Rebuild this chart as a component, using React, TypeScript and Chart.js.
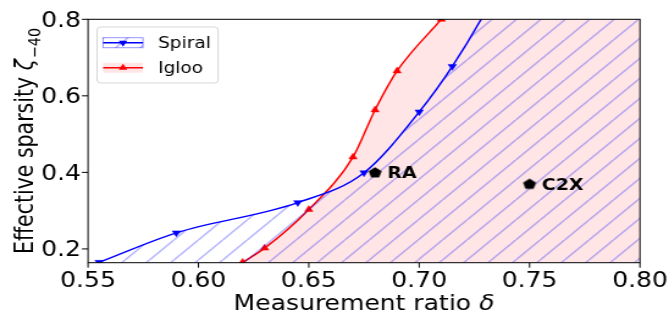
import React, { useEffect, useRef } from 'react';
import { Chart, registerables } from 'chart.js';

Chart.register(...registerables);

// ---------------- data ----------------
const xTicks = [0.55, 0.6, 0.65, 0.7, 0.75, 0.8];
const yTicks = [0.2, 0.4, 0.6, 0.8];
const xMin = 0.55;
const xMax = 0.8;
const yMin = 0.164;
const yMax = 0.8;

const seriesNames = ['Spiral', 'Igloo'];
const spiralX = [0.555, 0.59, 0.645, 0.675, 0.7, 0.715, 0.73, 0.8];
const spiralY = [0.165, 0.242, 0.321, 0.399, 0.558, 0.677, 0.82, 1.6];
const iglooX = [0.62, 0.63, 0.65, 0.67, 0.68, 0.69, 0.71, 0.8];
const iglooY = [0.165, 0.202, 0.303, 0.44, 0.563, 0.665, 0.8, 1.4];

const annLabels = ['RA', 'C2X'];
const annX = [0.68, 0.75];
const annY = [0.4, 0.37];

const xTitle = 'Measurement ratio ';
const xTitleSym = 'δ';
const yTitle = 'Effective sparsity ';
const yTitleSym = 'ζ';
const yTitleSub = '−40';

// ---------------- layout ----------------
const W = 548;
const H = 314;
const CSS_W = 669;
const FONT = '"DejaVu Sans", sans-serif';
const TICK_FS = 20.5;
const LEG_FS = 15.2;
const ANN_FS = 15.5;

function makeHatch(ctx: CanvasRenderingContext2D): CanvasPattern {
  const s = 20;
  const c = document.createElement('canvas');
  c.width = s;
  c.height = s;
  const g = c.getContext('2d')!;
  g.strokeStyle = 'rgba(0,0,255,0.42)';
  g.lineWidth = 1.1;
  g.beginPath();
  for (const o of [-s, 0, s]) {
    g.moveTo(o, s);
    g.lineTo(o + s, 0);
  }
  g.stroke();
  const p = ctx.createPattern(c, 'repeat')!;
  try {
    p.setTransform(new DOMMatrix().translate(2.4, 0));
  } catch (e) {}
  return p;
}

function makePentagon(): HTMLCanvasElement {
  const c = document.createElement('canvas');
  c.width = 13;
  c.height = 13;
  const g = c.getContext('2d')!;
  g.fillStyle = '#000';
  g.beginPath();
  for (let i = 0; i < 5; i++) {
    const a = -Math.PI / 2 + (i * 2 * Math.PI) / 5;
    const px = 6.5 + 5.6 * Math.cos(a);
    const py = 6.9 + 5.6 * Math.sin(a);
    if (i) g.lineTo(px, py);
    else g.moveTo(px, py);
  }
  g.closePath();
  g.fill();
  return c;
}

function tri(ctx: CanvasRenderingContext2D, x: number, y: number, r: number, down: boolean, color: string) {
  ctx.beginPath();
  for (let i = 0; i < 3; i++) {
    const a = (down ? Math.PI : 0) + (i * 2 * Math.PI) / 3;
    const px = x + Math.sin(a) * r;
    const py = y - Math.cos(a) * r;
    if (i) ctx.lineTo(px, py);
    else ctx.moveTo(px, py);
  }
  ctx.closePath();
  ctx.fillStyle = color;
  ctx.fill();
}

export default function App() {
  const ref = useRef<HTMLCanvasElement>(null);

  useEffect(() => {
    document.body.style.margin = '0';
    const canvas = ref.current!;
    const ctx0 = canvas.getContext('2d')!;
    const hatch = makeHatch(ctx0);
    const pent = makePentagon();

    const decor = {
      id: 'decor',
      afterDraw(chart: any) {
        const ctx: CanvasRenderingContext2D = chart.ctx;
        const a = chart.chartArea;
        const xs = chart.scales.x;
        const ys = chart.scales.y;
        ctx.save();
        // spines
        ctx.strokeStyle = '#000';
        ctx.lineWidth = 1;
        ctx.strokeRect(a.left, a.top, a.right - a.left, a.bottom - a.top);
        // ticks + labels
        ctx.fillStyle = '#000';
        ctx.font = `${TICK_FS}px ${FONT}`;
        ctx.textBaseline = 'alphabetic';
        ctx.textAlign = 'center';
        xTicks.forEach((v) => {
          const px = xs.getPixelForValue(v);
          ctx.beginPath();
          ctx.moveTo(px, a.bottom);
          ctx.lineTo(px, a.bottom + 5);
          ctx.stroke();
          ctx.fillText(v.toFixed(2), px, a.bottom + 24.5);
        });
        ctx.textAlign = 'right';
        yTicks.forEach((v) => {
          const py = ys.getPixelForValue(v);
          ctx.beginPath();
          ctx.moveTo(a.left - 5, py);
          ctx.lineTo(a.left, py);
          ctx.stroke();
          ctx.fillText(v.toFixed(1), a.left - 5.7, py + 0.3645 * TICK_FS);
        });
        // x title
        ctx.textAlign = 'left';
        ctx.font = `${TICK_FS}px ${FONT}`;
        const w1 = ctx.measureText(xTitle).width;
        ctx.font = `italic ${TICK_FS}px ${FONT}`;
        const w2 = ctx.measureText(xTitleSym).width;
        const cx = (a.left + a.right) / 2;
        const tx = cx - (w1 + w2) / 2;
        ctx.font = `${TICK_FS}px ${FONT}`;
        ctx.fillText(xTitle, tx, 310);
        ctx.font = `italic ${TICK_FS}px ${FONT}`;
        ctx.fillText(xTitleSym, tx + w1, 310);
        // y title
        ctx.save();
        ctx.translate(27.3, (a.top + a.bottom) / 2);
        ctx.rotate(-Math.PI / 2);
        ctx.font = `${TICK_FS}px ${FONT}`;
        const y1 = ctx.measureText(yTitle).width;
        ctx.font = `italic ${TICK_FS}px ${FONT}`;
        const y2 = ctx.measureText(yTitleSym).width;
        const subFs = TICK_FS * 0.7;
        ctx.font = `${subFs}px ${FONT}`;
        const y3 = ctx.measureText(yTitleSub).width;
        const sx = -(y1 + y2 + y3 + 1) / 2;
        ctx.font = `${TICK_FS}px ${FONT}`;
        ctx.fillText(yTitle, sx, 0);
        ctx.font = `italic ${TICK_FS}px ${FONT}`;
        ctx.fillText(yTitleSym, sx + y1, 0);
        ctx.font = `${subFs}px ${FONT}`;
        ctx.fillText(yTitleSub, sx + y1 + y2 + 1, 6);
        ctx.restore();

        // annotation labels
        const meta = chart.getDatasetMeta(0);
        ctx.font = `bold ${ANN_FS}px ${FONT}`;
        ctx.textAlign = 'left';
        annLabels.forEach((lab, i) => {
          const el = meta.data[i];
          ctx.fillText(lab, el.x + 10, el.y + (0.729 * ANN_FS) / 2);
        });

        // legend
        const bx = 79.5, by = 27, bw = 99.1, bh = 56;
        ctx.beginPath();
        ctx.roundRect(bx, by, bw, bh, 3);
        ctx.fillStyle = 'rgba(255,255,255,0.8)';
        ctx.fill();
        ctx.strokeStyle = 'rgba(204,204,204,0.8)';
        ctx.lineWidth = 1;
        ctx.stroke();
        const hx0 = 84.4, hx1 = 117.1, hc = (hx0 + hx1) / 2;
        const rows = [42.7, 67.7];
        // Spiral
        ctx.fillStyle = hatch;
        ctx.fillRect(hx0, rows[0] - 5, hx1 - hx0, 10);
        ctx.strokeStyle = 'rgba(0,0,255,0.42)';
        ctx.strokeRect(hx0, rows[0] - 5, hx1 - hx0, 10);
        ctx.strokeStyle = '#0000ff';
        ctx.lineWidth = 1.5;
        ctx.beginPath();
        ctx.moveTo(hx0, rows[0]);
        ctx.lineTo(hx1, rows[0]);
        ctx.stroke();
        tri(ctx, hc, rows[0], 4, true, '#0000ff');
        // Igloo
        ctx.fillStyle = 'rgba(255,0,0,0.1)';
        ctx.fillRect(hx0, rows[1] - 5, hx1 - hx0, 10);
        ctx.strokeStyle = '#ff0000';
        ctx.beginPath();
        ctx.moveTo(hx0, rows[1]);
        ctx.lineTo(hx1, rows[1]);
        ctx.stroke();
        tri(ctx, hc, rows[1], 4, false, '#ff0000');
        ctx.fillStyle = '#000';
        ctx.font = `${LEG_FS}px ${FONT}`;
        seriesNames.forEach((n, i) => {
          ctx.fillText(n, 129.4, rows[i] + (0.729 * LEG_FS) / 2);
        });
        ctx.restore();
      },
    };

    const chart = new Chart(canvas, {
      type: 'line',
      data: {
        datasets: [
          {
            label: 'points',
            data: annX.map((x, i) => ({ x, y: annY[i] })),
            showLine: false,
            pointStyle: pent as any,
            pointRadius: 6,
            borderColor: '#000',
            backgroundColor: '#000',
          },
          {
            label: seriesNames[0],
            data: spiralX.map((x, i) => ({ x, y: spiralY[i] })),
            borderColor: '#0000ff',
            borderWidth: 1.5,
            backgroundColor: hatch as any,
            fill: 'start',
            pointStyle: 'triangle',
            pointRotation: 180,
            pointRadius: 3.9,
            pointBorderWidth: 0.5,
            pointBackgroundColor: '#0000ff',
            pointBorderColor: '#0000ff',
            cubicInterpolationMode: 'monotone',
            tension: 0.4,
          },
          {
            label: seriesNames[1],
            data: iglooX.map((x, i) => ({ x, y: iglooY[i] })),
            borderColor: '#ff0000',
            borderWidth: 1.5,
            backgroundColor: 'rgba(255,0,0,0.1)',
            fill: 'start',
            pointStyle: 'triangle',
            pointRadius: 3.9,
            pointBorderWidth: 0.5,
            pointBackgroundColor: '#ff0000',
            pointBorderColor: '#ff0000',
            cubicInterpolationMode: 'monotone',
            tension: 0.4,
          },
        ],
      },
      options: {
        responsive: false,
        animation: false,
        devicePixelRatio: 1,
        events: [],
        layout: { padding: { left: 0, top: 19.3, right: 23.8, bottom: 0 } },
        plugins: { legend: { display: false }, tooltip: { enabled: false } },
        scales: {
          x: {
            type: 'linear',
            min: xMin,
            max: xMax,
            grid: { display: false },
            border: { display: false },
            ticks: { display: false },
            afterBuildTicks: (s: any) => {
              s.ticks = xTicks.map((v) => ({ value: v }));
            },
            afterFit: (s: any) => {
              s.height = 51.3;
            },
          },
          y: {
            type: 'linear',
            min: yMin,
            max: yMax,
            grid: { display: false },
            border: { display: false },
            ticks: { display: false },
            afterBuildTicks: (s: any) => {
              s.ticks = yTicks.map((v) => ({ value: v }));
            },
            afterFit: (s: any) => {
              s.width = 72.1;
            },
          },
        },
      } as any,
      plugins: [decor],
    });
    return () => chart.destroy();
  }, []);

  return (
    <canvas
      ref={ref}
      width={W}
      height={H}
      style={{ width: CSS_W + 'px', height: H + 'px', display: 'block' }}
    />
  );
}
